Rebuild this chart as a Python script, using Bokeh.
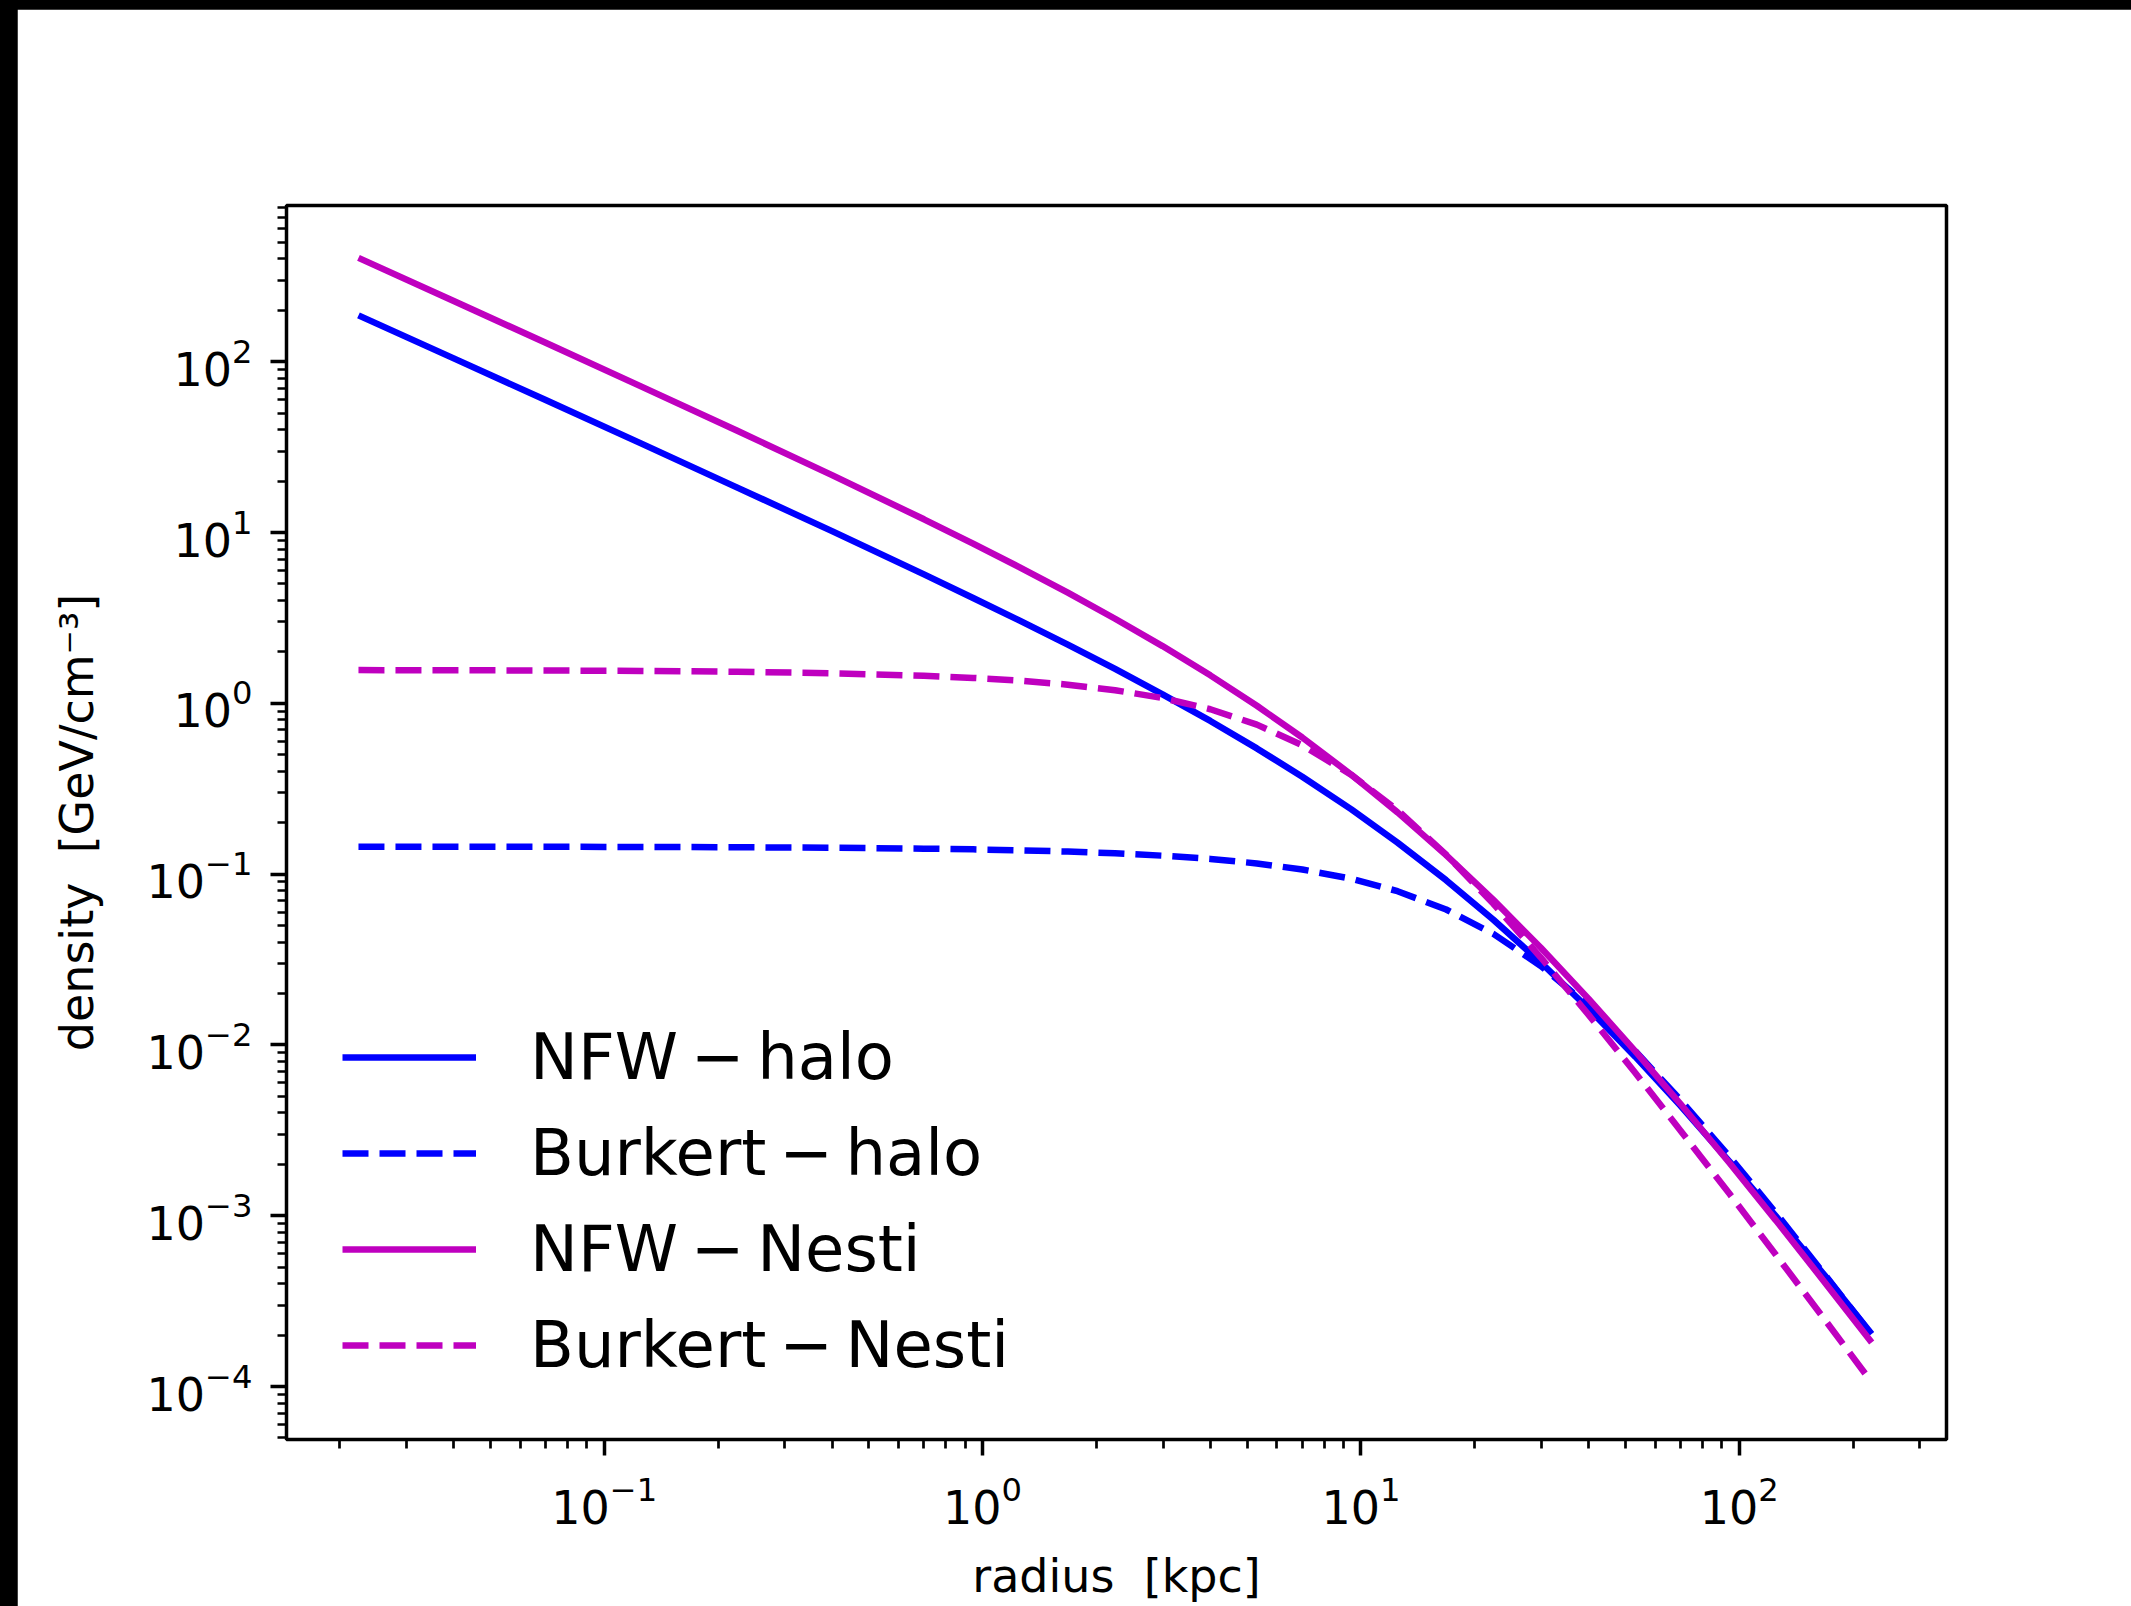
from bokeh.plotting import figure
from bokeh.models import Range1d
from bokeh.layouts import column
from bokeh.embed import file_html
from bokeh.resources import INLINE

# ---- data (radius in kpc, density in GeV/cm^3) ----
radius = [0.0224, 0.04, 0.07, 0.125, 0.224, 0.4, 0.7, 0.944, 1.25, 1.68, 2.24,
          2.99, 4, 5.31, 7, 9.44, 12.5, 16.8, 22.4, 29.9, 40, 53.1, 70, 94.4,
          125, 168, 224]
nfw_halo = [187.0, 104.7, 59.7, 33.3, 18.4, 10.2, 5.69, 4.14, 3.06, 2.205, 1.59,
            1.130, 0.789, 0.545, 0.372, 0.2394, 0.153, 0.0922, 0.0541, 0.0304,
            0.0163, 0.00854, 0.00440, 0.00207, 0.000996, 0.000449, 0.000203]
burkert_halo = [0.1449, 0.1448, 0.1446, 0.1443, 0.1438, 0.1428, 0.1411, 0.1397,
                0.1380, 0.1356, 0.1325, 0.1283, 0.1228, 0.1156, 0.1065, 0.0940,
                0.0795, 0.0621, 0.0447, 0.0290, 0.0170, 0.00922, 0.00476,
                0.00221, 0.00104, 0.000455, 0.000200]
nfw_nesti = [406.0, 226.9, 129.2, 71.8, 39.6, 21.7, 11.96, 8.62, 6.28, 4.45, 3.13,
             2.165, 1.459, 0.968, 0.631, 0.382, 0.230, 0.1292, 0.0707, 0.0371,
             0.0186, 0.00921, 0.00451, 0.00203, 0.000940, 0.000410, 0.000181]
burkert_nesti = [1.566, 1.563, 1.558, 1.549, 1.532, 1.502, 1.451, 1.410, 1.359,
                 1.287, 1.194, 1.075, 0.924, 0.751, 0.569, 0.381, 0.237, 0.1300,
                 0.0670, 0.0325, 0.0150, 0.00688, 0.00315, 0.00134, 0.000591,
                 0.000248, 0.000106]

series_labels = ["NFW\u2009\u2212\u2009halo", "Burkert\u2009\u2212\u2009halo",
                 "NFW\u2009\u2212\u2009Nesti", "Burkert\u2009\u2212\u2009Nesti"]
series_values = [nfw_halo, burkert_halo, nfw_nesti, burkert_nesti]
series_colors = ["#0000ff", "#0000ff", "#bf00bf", "#bf00bf"]
series_dash = ["solid", "26 11", "solid", "26 11"]

x_title = "radius \u00a0[kpc]"
y_title = "density \u00a0[GeV/cm\u207b\u00b3]"

FONT = "DejaVu Sans"

p = figure(width=2114, height=1597, x_axis_type="log", y_axis_type="log",
           x_range=Range1d(10 ** -1.84, 10 ** 2.548),
           y_range=Range1d(10 ** -4.31, 10 ** 2.915),
           output_backend="svg", toolbar_location=None,
           min_border_left=269, min_border_right=185,
           min_border_top=196, min_border_bottom=167)
p.margin = (9, 0, 0, 17)
p.background_fill_color = "white"
p.border_fill_color = "white"
p.outline_line_color = "black"
p.outline_line_width = 3.5
p.grid.visible = False

for ax, standoff in ((p.xaxis[0], 20), (p.yaxis[0], 18)):
    ax.axis_line_color = None
    ax.major_tick_line_color = "black"
    ax.major_tick_line_width = 3.5
    ax.major_tick_out = 16
    ax.major_tick_in = 0
    ax.minor_tick_line_color = "black"
    ax.minor_tick_line_width = 2.7
    ax.minor_tick_out = 9
    ax.minor_tick_in = 0
    ax.major_label_text_font = FONT
    ax.major_label_text_font_size = "46px"
    ax.major_label_text_color = "black"
    ax.major_label_standoff = standoff
    ax.axis_label_text_font = FONT
    ax.axis_label_text_font_size = "46px"
    ax.axis_label_text_font_style = "normal"
    ax.axis_label_text_color = "black"

p.xaxis[0].axis_label = x_title
p.xaxis[0].axis_label_standoff = 22
p.yaxis[0].axis_label = y_title
p.yaxis[0].axis_label_standoff = 40

for lab, vals, col, dash in zip(series_labels, series_values, series_colors, series_dash):
    p.line(radius, vals, line_color=col, line_width=6.5, line_dash=dash,
           legend_label=lab)

leg = p.legend[0]
leg.location = (56, 56)
leg.padding = 0
leg.margin = 0
leg.spacing = 20
leg.glyph_width = 134
leg.glyph_height = 76
leg.label_height = 76
leg.label_standoff = 54
leg.label_text_font = FONT
leg.label_text_font_size = "64px"
leg.label_text_color = "black"
leg.border_line_alpha = 0
leg.background_fill_alpha = 0

layout = column(p, styles={"background-color": "black"})

open("out.html", "w").write(file_html(layout, INLINE))
